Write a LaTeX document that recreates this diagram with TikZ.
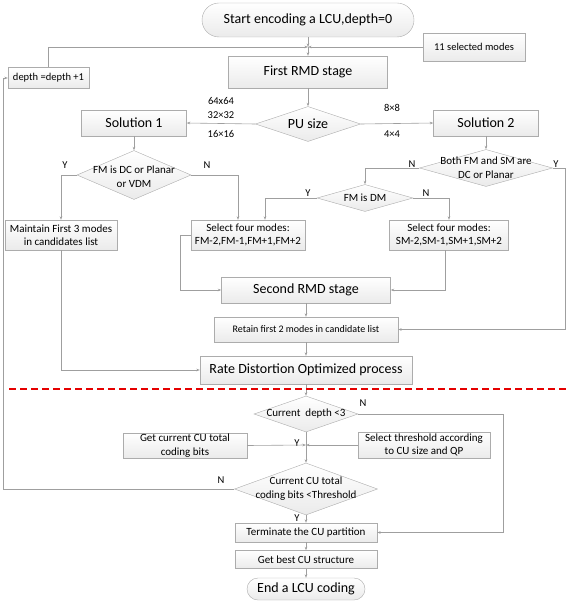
\documentclass[tikz,border=0pt]{standalone}
\usepackage{fontspec}
\setmainfont{Carlito}
\usetikzlibrary{shapes}
\usetikzlibrary{shapes.geometric}
\usetikzlibrary{positioning}
\usetikzlibrary{arrows.meta}
\tikzset{
    box/.style = {rectangle, draw=gray!65, top color=white, bottom color=gray!16, inner sep=0pt, align=center, font=\fontsize{11}{13.5}\selectfont},
    bigbox/.style = {box, font=\fontsize{14}{16}\selectfont},
    term/.style = {box, rounded corners=11pt, font=\fontsize{14}{16}\selectfont},
    decision/.style = {diamond, draw=gray!65, top color=white, bottom color=gray!16, inner sep=0pt},
    dtext/.style = {align=center, inner sep=0pt, font=\fontsize{11}{14}\selectfont},
    lbl/.style = {inner sep=0pt, font=\fontsize{10.5}{12}\selectfont},
    edgeg/.style = {-{Stealth[length=3.5pt,width=2.6pt]}, draw=gray!75, line width=0.6pt},
    lineg/.style = {draw=gray!75, line width=0.6pt},
    sepline/.style = {draw=red!90!black, line width=1.4pt, dash pattern=on 7pt off 4pt}
}
\begin{document}
\begin{tikzpicture}[x=1pt,y=-1pt]
\path[use as bounding box] (0,0) rectangle (567,604);
%
\node[term, rounded corners=17pt, minimum width=212pt, minimum height=34pt] at (308,20) (start) {Start encoding a LCU,depth=0};
\coordinate (j1) at (308,47);
\node[box, font=\fontsize{10.5}{12}\selectfont, minimum width=102pt, minimum height=28pt] at (474,47) (sel11) {11 selected modes};
\node[box, font=\fontsize{10.5}{12}\selectfont, minimum width=81pt, minimum height=21pt] at (48.5,78) (depth) {depth =depth +1};
\node[bigbox, minimum width=159pt, minimum height=32pt] at (308,72) (rmd1) {First RMD stage};
\node[decision, minimum width=105pt, minimum height=35pt, label={[dtext, font=\fontsize{14}{16}\selectfont]center:PU size}] at (308,124) (pu) {};
\node[bigbox, minimum width=105pt, minimum height=26pt] at (134,123) (sol1) {Solution 1};
\node[bigbox, minimum width=105pt, minimum height=26pt] at (486,123) (sol2) {Solution 2};
%
\node[decision, minimum width=114pt, minimum height=49pt, label={[dtext, yshift=-2pt]center:FM is DC or Planar\\or VDM}] at (134,175) (fmdc) {};
\node[decision, minimum width=133pt, minimum height=37pt, label={[dtext]center:Both FM and SM are\\DC or Planar}] at (486,168) (bothdc) {};
\node[decision, minimum width=96pt, minimum height=27pt, label={[dtext]center:FM is DM}] at (365,198) (fmdm) {};
\node[box, minimum width=112pt, minimum height=30pt] at (61,235) (maintain) {Maintain First 3 modes\\in candidates list};
\node[box, minimum width=114pt, minimum height=30pt] at (248,235) (selfm) {Select four modes:\\FM-2,FM-1,FM+1,FM+2};
\node[box, minimum width=119pt, minimum height=30pt] at (449,235) (selsm) {Select four modes:\\SM-2,SM-1,SM+1,SM+2};
%
\node[bigbox, minimum width=169pt, minimum height=26pt] at (306,290) (rmd2) {Second RMD stage};
\node[box, font=\fontsize{10}{12}\selectfont, minimum width=184pt, minimum height=25pt] at (306,329.5) (retain) {Retain first 2 modes in candidate list};
\node[bigbox, minimum width=212pt, minimum height=28pt] at (306,370) (rd) {Rate Distortion Optimized process};
%
\node[decision, minimum width=104pt, minimum height=36pt, label={[dtext]center:Current\ \ depth <3}] at (306,414) (curd) {};
\coordinate (j2) at (306,445);
\node[box, minimum width=124pt, minimum height=25pt] at (185,445.5) (getcu) {Get current CU total\\coding bits};
\node[box, minimum width=132pt, minimum height=26pt] at (424,445) (selthr) {Select threshold according\\to CU size and QP};
\node[decision, minimum width=143pt, minimum height=52pt, label={[dtext]center:Current CU total\\coding bits <Threshold}] at (306,489) (thr) {};
\node[box, minimum width=142pt, minimum height=19pt] at (306,532.5) (term) {Terminate the CU partition};
\node[box, minimum width=142pt, minimum height=18pt] at (306,559.5) (best) {Get best CU structure};
\node[term, minimum width=118pt, minimum height=22pt] at (306,589) (endn) {End a LCU coding};
%
\coordinate (lcol) at (3,0);
\coordinate (rcol) at (565,0);
\coordinate (rcol2) at (503,0);
%
\node[lbl] at (221,101) (s64) {64x64};
\node[lbl] at (221,115) (s32) {32×32};
\node[lbl] at (221,134) (s16) {16×16};
\node[lbl] at (392,108) (s8) {8×8};
\node[lbl] at (392,134) (s4) {4×4};
\node[lbl] at (65,165) (fmdcy) {Y};
\node[lbl] at (207,165) (fmdcn) {N};
\node[lbl] at (412,164) (bothn) {N};
\node[lbl] at (556,164) (bothy) {Y};
\node[lbl] at (308,193) (fmdmy) {Y};
\node[lbl] at (426,193) (fmdmn) {N};
\node[lbl] at (363,403) (curdn) {N};
\node[lbl] at (297,443) (curdy) {Y};
\node[lbl] at (221,480) (thrn) {N};
\node[lbl] at (297,518) (thry) {Y};
%
\draw[edgeg] (start) -- (j1);
\draw[edgeg] (depth.north) |- (j1);
\draw[edgeg] (sel11.west) -- (j1);
\draw[edgeg] (j1) -- (rmd1);
\draw[edgeg] (rmd1) -- (pu);
\draw[edgeg] (pu.west) -- (sol1.east);
\draw[edgeg] (pu.east) -- (sol2.west);
\draw[edgeg] (sol1) -- (fmdc);
\draw[edgeg] (sol2) -- (bothdc);
\draw[edgeg] (fmdc.west) -| (maintain.north);
\draw[edgeg] (fmdc.east) -| ([xshift=-10pt]selfm.north);
\draw[edgeg] (bothdc.west) -| (fmdm.north);
\draw[edgeg] (bothdc.east) -- (bothdc.east -| rcol) |- (retain.east);
\draw[edgeg] (fmdm.west) -| ([xshift=17pt]selfm.north);
\draw[edgeg] (fmdm.east) -| (selsm.north);
\draw[edgeg] (selfm.west) -- ++(-11,0) |- (rmd2.west);
\draw[edgeg] ([xshift=-4pt]selsm.south) |- (rmd2.east);
\draw[edgeg] (rmd2) -- (retain);
\draw[edgeg] (retain) -- (rd);
\draw[edgeg] (maintain.south) |- (rd.west);
\draw[edgeg] (rd) -- (curd);
\draw[lineg] (curd.south) -- (j2);
\draw[edgeg] (getcu.east) -- (j2);
\draw[edgeg] (selthr.west) -- (j2);
\draw[edgeg] (j2) -- (thr);
\draw[edgeg] (curd.east) -- (curd.east -| rcol2) |- (term.east);
\draw[edgeg] (thr.west) -- (thr.west -| lcol) |- (depth.west);
\draw[edgeg] (thr) -- (term);
\draw[edgeg] (term) -- (best);
\draw[edgeg] (best) -- (endn);
%
\draw[sepline] (9,389) -- (567,389);

\end{tikzpicture}
\end{document}
